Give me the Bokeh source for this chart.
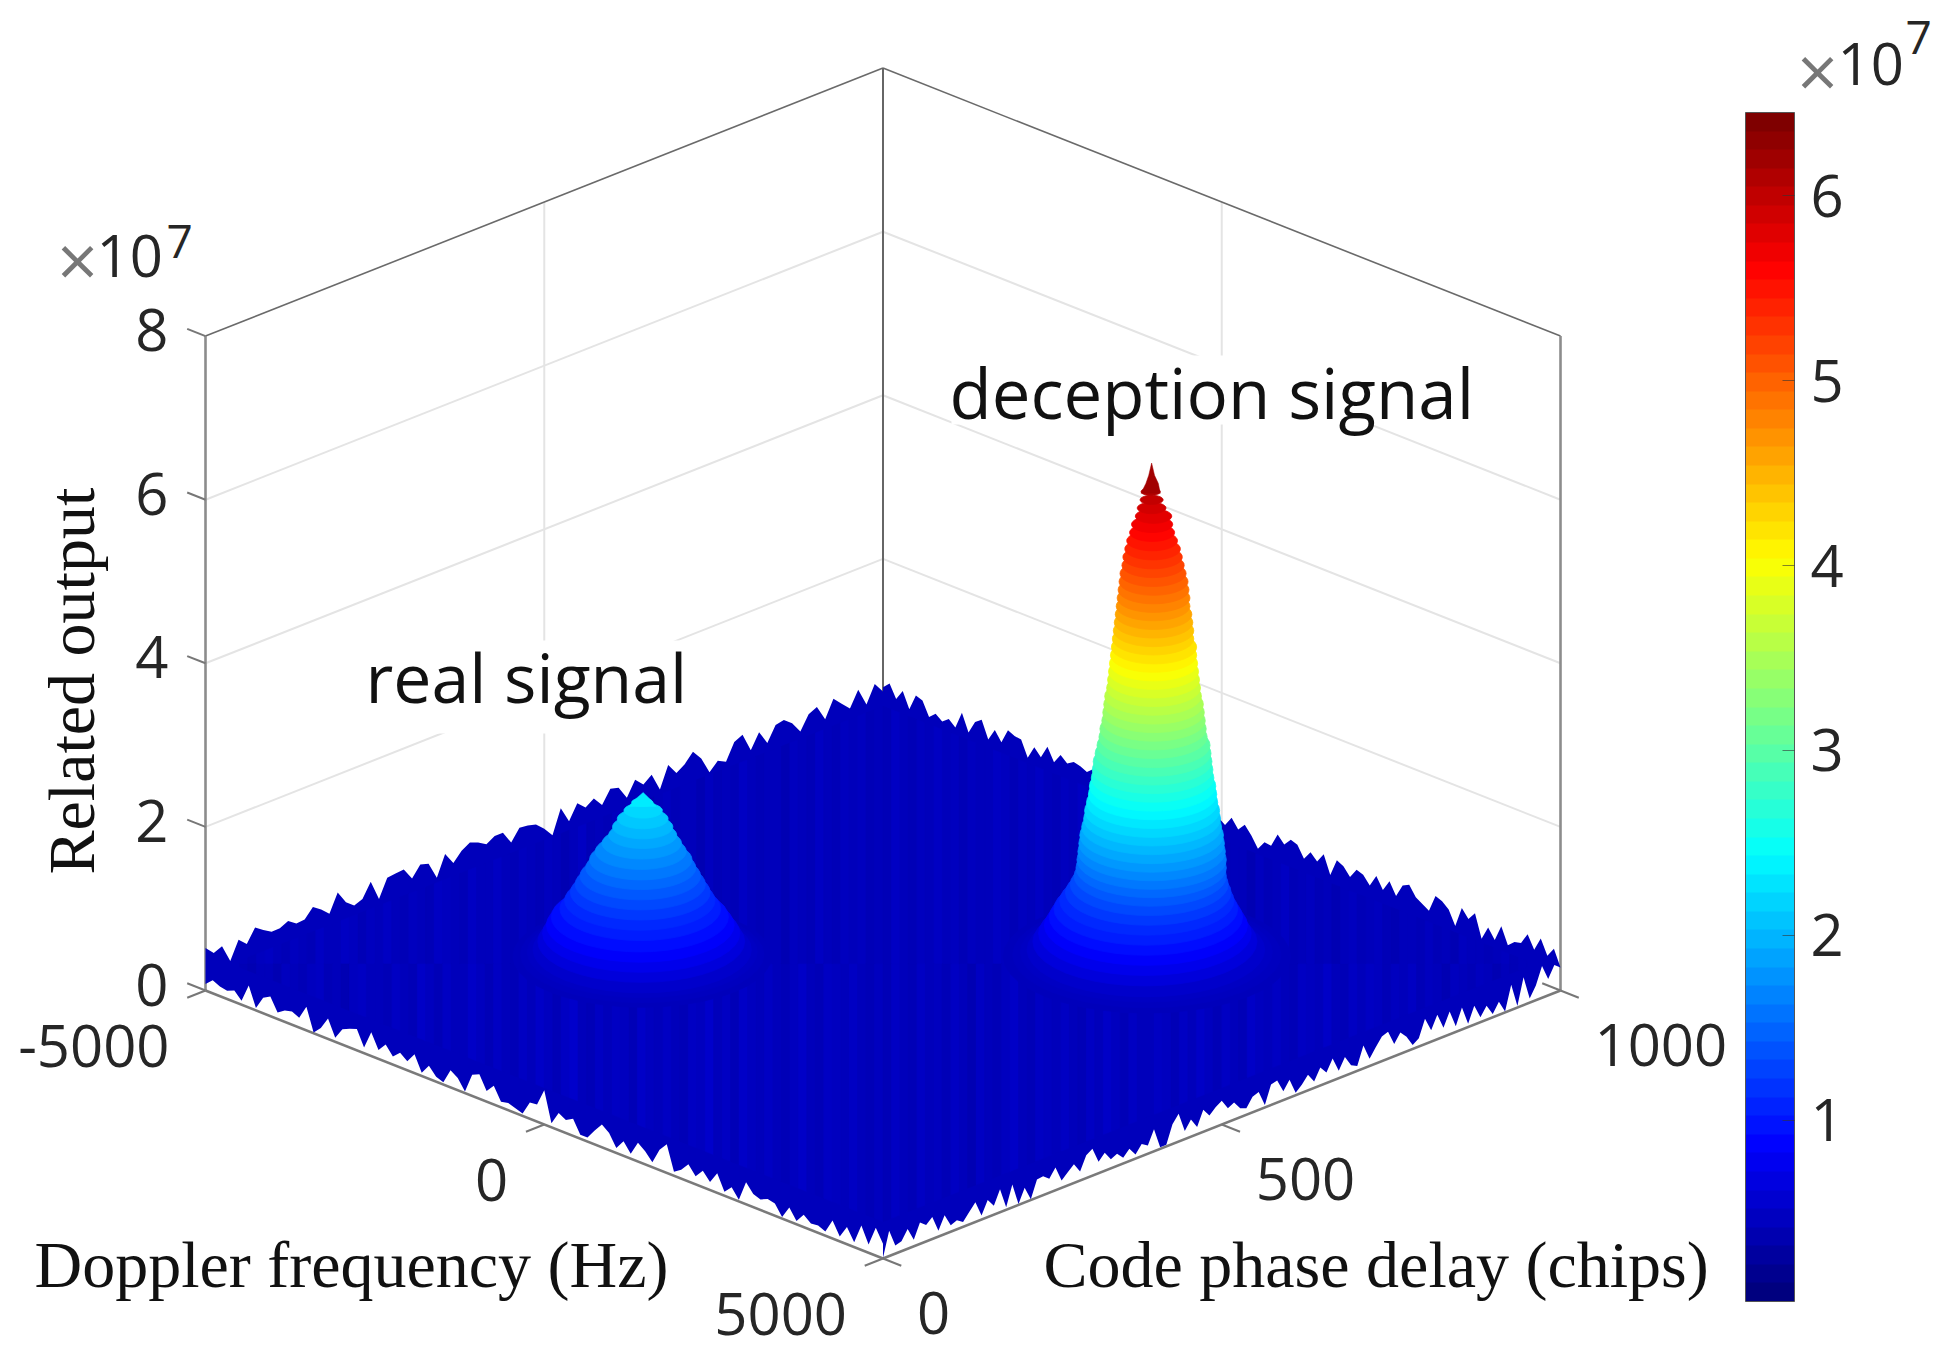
import numpy as np
from bokeh.plotting import figure
from bokeh.models import Range1d, ColumnDataSource, LinearColorMapper, ColorBar, FixedTicker
from bokeh.core.properties import value
from bokeh.embed import file_html
from bokeh.resources import INLINE

# ---------- values (heights in units of 1e7) ----------
z_ticks = [0, 2, 4, 6, 8]
doppler_ticks = [-5000, 0, 5000]
code_ticks = [0, 500, 1000]
cbar_ticks = [1, 2, 3, 4, 5, 6]
cbar_low, cbar_high = 0.02, 6.45

# surface silhouette: back ridge, Doppler -5000 side, code 0 -> 1000
ridge_back_left = [.52,.42,.46,.24,.46,.37,.53,.46,.40,.40,.45,.38,.39,.50,.43,.34,.56,.40,.32,.36,.53,.28,.50,.51,.52,.37,.50,.47,.26,.51,.36,.47,.53,.49,.43,.49,.49,.33,.47,.46,
                   .43,.34,.22,.51,.31,.49,.40,.47,.35,.51,.48,.32,.50,.40,.48,.26,.52,.38,.45,.56,.44,.23,.33,.28,.48,.53,.30,.48,.31,.49,.51,.43,.29,.46,.51,.32,.53,.43,.33,.52,.30,.51,.38]
# back ridge, code 1000 side, Doppler -5000 -> 5000
ridge_back_right = [.43,.51,.35,.48,.29,.49,.46,.29,.36,.30,.36,.29,.50,.29,.45,.51,.30,.45,.33,.51,.47,.46,.27,.43,.34,.50,.34,.46,.39,.44,
                    .42,.38,.45,.40,.44,.36,.47,.41,.39,.46,.43,.37,.44,.41,.38,.45,
                    .27,.51,.53,.38,.27,.46,.40,.52,.41,.50,.40,.27,.38,.37,.54,.45,.54,.51,.37,.48,.40,.52,.30,.51,.47,.37,.49,.46,.36,.51,.37,.51,.36,.52,.56,.44,.39,.34,.55,.52,.45,.28,.53,.43,.53,.25,.42,.30,.50,.30,.37,.39,.53,.37,.54,.36,.48,.28]
# front edge, code 0 side, Doppler -5000 -> 5000
edge_front_left = [.08,.16,.12,.10,.14,.05,.27,.03,.19,.24,.08,.14,.16,.12,.29,.01,.10,.25,.05,.19,.23,.26,.07,.29,.11,.21,.10,.18,.11,.23,.04,.16,.06,.03,.21,.15,.02,.26,.30,.13,.23,.07,.09,.06,
                   .03,.20,.21,.42,.05,.21,.16,.21,.05,.05,.17,.28,.21,.06,.18,.06,.23,.16,.06,.25,.35,.05,.11,.21,.10,.20,.10,.24,.05,.14,.02,.27,.16,.13,.17,.15,.02,.17,.04,.15,.08,.09,.05,.22,.06,.21,.06,.30,.10,.34,.18]
# front edge, Doppler 5000 side, code 0 -> 1000
edge_front_right = [.01,.31,.10,.12,.24,.08,.26,.20,.27,.07,.23,.08,.11,.06,.15,.24,.05,.21,.11,.28,.03,.28,.01,.18,.01,.22,.23,.17,.28,.09,.16,.23,.11,.28,.33,.14,.22,.11,.15,.07,.15,.05,.15,.10,.27,.02,.02,.24,.34,.10,.21,.09,.27,
                    .17,.24,.29,.17,.21,.11,.08,.19,.22,.03,.25,.27,.11,.22,.03,.10,.19,.08,.22,.13,.27,.09,.23,.10,.06,.28,.09,.20,.30,.33,.15,.26,.18,.05,.10,.31,.14,.30,.11,.28,.07,.27,.04,.23,.06,.17,.04,.16,.01,.31,.02,.34,.05,.18,.39,.20,.34,.28]

# shade of the surface, left to right across the picture (rear half, front half)
shade_rear = [.40,.43,.38,.44,.41,.38,.43,.46,.40,.39,.44,.41,.38,.45,.42,.40,.46,.43,.39,.44,.41,.46,.40,.38,.44,.42,.39,.47,.43,.41,.38,.45,.42,.40,.46,.41,.39,.44,.41,.38,
              .43,.40,.37,.42,.45,.39,.41,.38,.44,.40,.39,.42,.37,.41,.44,.38,.42,.40,.37,.43,.39,.41,.38,.45,.40,.38,.42,.40,.37,.44,.41,.39,.45,.41,.38,.43,.40,.44,.39,.42,
              .38,.45,.41,.39,.43,.41,.46,.40,.43,.38,.44,.42,.40,.47,.43,.39,.44,.41,.45,.42,.39,.44,.40,.46,.43,.39,.45,.41,.38,.43,.45,.40,.42,.39,.44,.41,.43,.40,.42,.41,
              .38,.42,.40,.37,.43,.39,.41,.45,.38,.40,.44,.39,.42,.37,.40,.43,.38,.41,.44,.39,.37,.42,.40,.38,.43,.39,.41,.37,.44,.40,.42,.38,.41,.43,.39,.40,.42,.38,.41,.40]
shade_front = [.37,.41,.38,.43,.39,.36,.42,.40,.37,.44,.40,.38,.43,.46,.39,.41,.37,.44,.47,.40,.42,.38,.45,.41,.39,.48,.43,.38,.46,.42,.40,.49,.44,.39,.47,.42,.38,.45,.41,.48,
               .43,.39,.46,.50,.42,.38,.45,.41,.47,.43,.39,.49,.44,.40,.46,.42,.38,.47,.43,.50,.41,.45,.39,.48,.43,.40,.46,.41,.38,.44,.49,.42,.39,.46,.43,.40,.47,.41,.38,.44,
               .39,.45,.42,.38,.47,.41,.44,.39,.46,.40,.37,.45,.42,.38,.44,.48,.41,.39,.46,.43,.40,.47,.42,.38,.45,.41,.49,.43,.39,.46,.42,.40,.47,.43,.38,.45,.41,.48,.43,.39,
               .46,.42,.38,.49,.44,.40,.46,.42,.38,.47,.43,.40,.48,.42,.39,.45,.41,.47,.43,.38,.44,.41,.46,.39,.43,.40,.37,.44,.41,.38,.43,.40,.37,.42,.39,.41,.38,.40,.39,.40]

# deception peak: position and half-widths at each height
dec_doppler, dec_code = 1985, 698
dec_z = [.42,.44,.47,.5,.6,.7,.8,.9,1.0,1.1,1.2,1.3,1.4,1.5,1.6,1.7,1.8,1.9,2.0,2.1,2.2,2.3,2.4,2.5,2.6,2.7,2.8,2.9,3.0,3.1,3.2,3.3,3.4,3.5,3.6,3.7,3.8,3.9,4.0,4.1,4.2,4.3,4.4,4.5,4.6,4.7,4.8,4.9,5.0,5.1,5.2,5.3,5.4,5.5,5.6,5.7,5.8,5.9,6.0,6.1]
dec_left = [155,145,137,130,124,118,112,107,102,96,90,85,81,79,78,77,76,75,73,71,70,68,66,65,63,62,61,59,57,55,54,52,51,50,49,47,46,45,44,43,42,41,40,39,38,37,36,35,34,33,31,30,28,26,23,21,17,15,12,11]
dec_right = [145,135,126,118,110,104,100,95,90,86,83,80,78,78,78,77,76,75,73,72,71,69,68,67,65,64,63,62,61,58,57,56,55,54,52,51,50,49,48,47,47,44,44,43,42,40,40,39,38,36,34,32,30,27,24,22,21,15,12,9]
dec_tip_z = [6.08, 6.2, 6.3, 6.45, 6.3, 6.2, 6.08]
dec_tip_offset = [-11, -6, -3, 0, 3, 7, 9]

# real signal peak
real_doppler, real_code = -1770, 323
real_z = [.42,.44,.47,.5,.6,.7,.8,.9,1.0,1.1,1.2,1.3,1.4,1.5,1.6,1.7,1.8,1.9,2.0,2.1,2.2,2.3]
real_left = [136,128,121,115,110,105,101,96,87,82,76,71,66,60,56,50,43,36,32,27,20,12]
real_right = [134,126,119,113,106,101,95,89,81,75,70,65,60,55,51,45,40,35,31,26,20,10]
real_tip_z = [2.25, 2.33, 2.42, 2.33, 2.25]
real_tip_offset = [-15, -9, 0, 8, 14]

# ---------- projection of (Doppler, code, height) onto the page ----------
def project(u, v, z):
    u, v, z = np.asarray(u, float), np.asarray(v, float), np.asarray(z, float)
    return 205 + 677.5 * (u + v), 990 + 268 * (u - v) - 81.8 * z

def fu(d):
    return (np.asarray(d, float) + 5000) / 10000

def fv(c):
    return np.asarray(c, float) / 1000

def jet(t):
    c = lambda a: np.clip(1.5 - abs(4 * t - a), 0, 1)
    return "#%02x%02x%02x" % (int(c(3) * 255), int(c(2) * 255), int(c(1) * 255))

def zcolor(z):
    return jet((z - cbar_low) / (cbar_high - cbar_low))

fine_jet = [jet(i / 255) for i in range(256)]
bar_jet = [jet(i / 63) for i in range(64)]
mapper = LinearColorMapper(palette=fine_jet, low=cbar_low, high=cbar_high)
bar_mapper = LinearColorMapper(palette=bar_jet, low=cbar_low, high=cbar_high)

W, H = 1945, 1352
p = figure(width=W, height=H, output_backend="svg", toolbar_location=None,
           x_range=Range1d(0, W), y_range=Range1d(H, 0), min_border=0,
           background_fill_color="white", border_fill_color="white")
p.axis.visible = False
p.grid.visible = False
p.outline_line_color = None


def seg(u0, v0, z0, u1, v1, z1):
    x0, y0 = project(u0, v0, z0)
    x1, y1 = project(u1, v1, z1)
    return [float(x0), float(x1)], [float(y0), float(y1)]


def lines(segments, color, width):
    p.multi_line([s[0] for s in segments], [s[1] for s in segments], line_color=color, line_width=width)


z_top = z_ticks[-1]
# wall grid lines
grid = []
for z in z_ticks[1:-1]:
    grid.append(seg(0, 0, z, 0, 1, z))
    grid.append(seg(0, 1, z, 1, 1, z))
grid.append(seg(0, fv(code_ticks[1]), 0, 0, fv(code_ticks[1]), z_top))
grid.append(seg(fu(doppler_ticks[1]), 1, 0, fu(doppler_ticks[1]), 1, z_top))
lines(grid, "#e4e4e4", 2)

# white boxes behind the annotations
p.quad(left=[951, 360], right=[1475, 692], top=[355, 640], bottom=[424, 733],
       fill_color="white", line_color=None)

# frame
lines([seg(0, 0, z_top, 0, 1, z_top), seg(0, 1, z_top, 1, 1, z_top)], "#6a6a6a", 1.6)
lines([seg(0, 1, 0, 0, 1, z_top)], "#666666", 2)
lines([seg(0, 0, 0, 0, 0, z_top), seg(1, 1, 0, 1, 1, z_top)], "#8c8c8c", 2.6)
lines([seg(0, 0, 0, 1, 0, 0), seg(1, 0, 0, 1, 1, 0)], "#7a7a7a", 2.6)

# ticks
tick = []
tu, tv = 0.027, 0.027
for z in z_ticks:
    tick.append(seg(0, 0, z, -tu, 0, z))
for d in doppler_ticks:
    tick.append(seg(fu(d), 0, 0, fu(d), -tv, 0))
for c in code_ticks:
    tick.append(seg(1, fv(c), 0, 1 + tu, fv(c), 0))
tick.append(seg(1, 1, 0, 1 - tu, 1, 0))
lines(tick, "#777777", 2)

# surface body
bl = np.asarray(ridge_back_left)
br = np.asarray(ridge_back_right)
fl = np.asarray(edge_front_left)
fr = np.asarray(edge_front_right)
bx0, by0 = project(np.zeros(len(bl)), np.linspace(0, 1, len(bl)), bl)
bx1, by1 = project(np.linspace(0, 1, len(br)), np.ones(len(br)), br)
fx0, fy0 = project(np.linspace(0, 1, len(fl)), np.zeros(len(fl)), fl)
fx1, fy1 = project(np.ones(len(fr)), np.linspace(0, 1, len(fr)), fr)
body_x = np.concatenate([bx0, bx1, fx1[::-1], fx0[::-1]])
body_y = np.concatenate([by0, by1, fy1[::-1], fy0[::-1]])
p.patch(body_x, body_y, fill_color=zcolor(0.40), line_color=None)


def back(s):
    return (0, s) if s <= 1 else (s - 1, 1)


def front(s):
    return (s, 0) if s <= 1 else (1, s - 1)


# streaks across the surface, rear and front half
xs, ys, zs = [], [], []
for shades, rear in ((shade_rear, True), (shade_front, False)):
    n = len(shades)
    for i, shade in enumerate(shades):
        s0, s1 = 2 * i / n, 2 * (i + 1) / n
        bx_0, by_0 = project(*back(s0), 0.2)
        bx_1, by_1 = project(*back(s1), 0.2)
        fx_1, fy_1 = project(*front(s1), 0.45)
        fx_0, fy_0 = project(*front(s0), 0.45)
        if not (by_0 < fy_0 and by_1 < fy_1):
            continue
        my_0, my_1 = (by_0 + fy_0) / 2, (by_1 + fy_1) / 2
        if rear:
            xs.append([float(bx_0), float(bx_1), float(bx_1), float(bx_0)])
            ys.append([float(by_0), float(by_1), float(my_1), float(my_0)])
        else:
            xs.append([float(bx_0), float(bx_1), float(bx_1), float(bx_0)])
            ys.append([float(my_0), float(my_1), float(fy_1), float(fy_0)])
        zs.append(shade)
src = ColumnDataSource(dict(xs=xs, ys=ys, z=zs))
p.patches("xs", "ys", source=src, fill_color={"field": "z", "transform": mapper},
          line_color={"field": "z", "transform": mapper}, line_width=0.5)

# peaks: stacked rings, lowest first, with a pointed tip
theta = np.linspace(0, 2 * np.pi, 41)
def rings(doppler, code, levels, left, right, tip_z, tip_off):
    xs, ys, zs = [], [], []
    uc, vc = fu(doppler), fv(code)
    for z, a, b in zip(levels, left, right):
        rho = (a + b) / 2000
        d = (b - a) / 2000 / np.sqrt(2)
        x, y = project(uc + d + rho * np.cos(theta), vc + d + rho * np.sin(theta), np.full(41, z))
        xs.append(x.tolist()); ys.append(y.tolist()); zs.append(z)
    src = ColumnDataSource(dict(xs=xs, ys=ys, z=zs))
    p.patches("xs", "ys", source=src, fill_color={"field": "z", "transform": mapper},
              line_color={"field": "z", "transform": mapper}, line_width=0.8)
    off = np.asarray(tip_off, float) / 1000 / np.sqrt(2)
    tx, ty = project(uc + off, vc + off, tip_z)
    col = zcolor(float(np.mean(tip_z)))
    p.patch(tx, ty, fill_color=col, line_color=col, line_width=0.5)

rings(real_doppler, real_code, real_z, real_left, real_right, real_tip_z, real_tip_offset)
rings(dec_doppler, dec_code, dec_z, dec_left, dec_right, dec_tip_z, dec_tip_offset)

# texts
NUM = value("Open Sans")
SER = value("Liberation Serif")
def label(x, y, s, size, font=NUM, align="left", base="middle", color="#262626", angle=0):
    p.text([x], [y], text=[s], text_font=font, text_font_size=value(size), text_align=align,
           text_baseline=base, text_color=color, angle=angle)

for z in z_ticks:
    x, y = project(0, 0, z)
    label(float(x) - 37, float(y) - 6, str(z), "58px", align="right")
for d in doppler_ticks:
    x, y = project(fu(d), 0, 0)
    label(float(x) - 36, float(y) + 55, str(d), "58px", align="right")
for c in code_ticks:
    x, y = project(1, fv(c), 0)
    label(float(x) + 34, float(y) + 54, str(c), "58px", align="left")

label(77, 258, "\u00d7", "72px", align="center", color="#777777")
label(96, 255, "10", "58px", base="alphabetic")
label(166, 241, "7", "46px", base="alphabetic")
label(1817, 69, "\u00d7", "72px", align="center", color="#777777")
label(1837, 63, "10", "58px", base="alphabetic")
label(1905, 37, "7", "46px", base="alphabetic")

label(949, 391, "deception signal", "69px", base="alphabetic", color="#111111")
label(365, 676, "real signal", "68px", base="alphabetic", color="#111111")
label(34, 1264, "Doppler frequency (Hz)", "66px", font=SER, base="alphabetic", color="#111111")
label(1043, 1264, "Code phase delay (chips)", "66px", font=SER, base="alphabetic", color="#111111")
label(71, 874, "Related output", "66px", font=SER, base="alphabetic", color="#111111", angle=np.pi / 2)

# colour bar
cb = ColorBar(color_mapper=bar_mapper, location=(1745, H - 1301), width=49, height=1189, padding=0, margin=0,
              ticker=FixedTicker(ticks=cbar_ticks), major_tick_in=12, major_tick_out=0,
              major_tick_line_color="#333333", major_tick_line_alpha=0.6, minor_tick_line_color=None,
              bar_line_color="#555555", bar_line_width=1, border_line_color=None,
              background_fill_alpha=0, label_standoff=16, major_label_text_font="Open Sans",
              major_label_text_font_size="58px", major_label_text_color="#262626")
p.add_layout(cb, "center")

open("out.html", "w").write(file_html(p, INLINE))
